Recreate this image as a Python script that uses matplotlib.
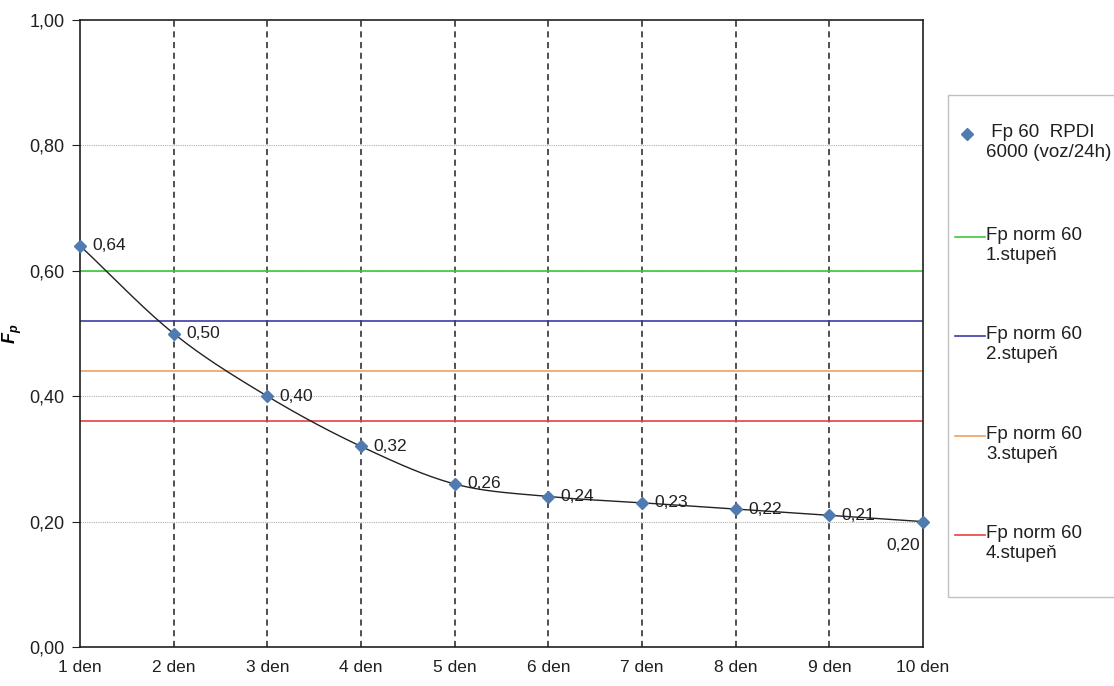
import matplotlib.pyplot as plt
import numpy as np
from matplotlib.lines import Line2D
from matplotlib.patches import Rectangle
from matplotlib.ticker import FuncFormatter

plt.rcParams['font.family'] = ['Liberation Sans', 'DejaVu Sans']
plt.rcParams['mathtext.fontset'] = 'custom'
plt.rcParams['mathtext.bfit'] = 'Liberation Sans:italic:bold'

days = ['1 den', '2 den', '3 den', '4 den', '5 den', '6 den', '7 den', '8 den', '9 den', '10 den']
fp_values = [0.64, 0.50, 0.40, 0.32, 0.26, 0.24, 0.23, 0.22, 0.21, 0.20]
norm_levels = [0.60, 0.52, 0.44, 0.36]
norm_labels = ['Fp norm 60\n1.stupeň', 'Fp norm 60\n2.stupeň', 'Fp norm 60\n3.stupeň', 'Fp norm 60\n4.stupeň']
norm_colors = ['#3cc83c', '#3c3ca8', '#f0a060', '#e84040']
series_label = ' Fp 60  RPDI\n6000 (voz/24h)'
point_color = '#4f7bb0'


def smooth_curve(x, y, steps=30):
    # Catmull-Rom style smoothing between the points
    x = np.asarray(x, float)
    y = np.asarray(y, float)
    px = np.concatenate([[2 * x[0] - x[1]], x, [2 * x[-1] - x[-2]]])
    py = np.concatenate([[2 * y[0] - y[1]], y, [2 * y[-1] - y[-2]]])
    xs, ys = [], []
    t = np.linspace(0, 1, steps)
    for i in range(1, len(px) - 2):
        p0, p1, p2, p3 = py[i - 1], py[i], py[i + 1], py[i + 2]
        q0, q1, q2, q3 = px[i - 1], px[i], px[i + 1], px[i + 2]
        ys.append(0.5 * (2 * p1 + (-p0 + p2) * t + (2 * p0 - 5 * p1 + 4 * p2 - p3) * t**2
                         + (-p0 + 3 * p1 - 3 * p2 + p3) * t**3))
        xs.append(0.5 * (2 * q1 + (-q0 + q2) * t + (2 * q0 - 5 * q1 + 4 * q2 - q3) * t**2
                         + (-q0 + 3 * q1 - 3 * q2 + q3) * t**3))
    return np.concatenate(xs), np.concatenate(ys)


W, H = 1114, 686
fig = plt.figure(figsize=(W / 100, H / 100), dpi=100)
ax = fig.add_axes([80 / W, 39 / H, 843 / W, 627 / H])

x = np.arange(1, len(days) + 1)

# grid
for yv in [0.2, 0.4, 0.6, 0.8]:
    ax.axhline(yv, color='#b0b0b0', linewidth=0.8, linestyle=(0, (1, 1)), zorder=1)
for xv in x[1:-1]:
    ax.axvline(xv, color='#202020', linewidth=1.1, linestyle=(0, (4, 3)), zorder=1)

for lvl, c in zip(norm_levels, norm_colors):
    ax.plot([x[0], x[-1]], [lvl, lvl], color=c, linewidth=1.2, zorder=2)

sx, sy = smooth_curve(x, fp_values)
ax.plot(sx, sy, color='#222222', linewidth=1.0, zorder=3)
ax.plot(x, fp_values, linestyle='none', marker='D', color=point_color, markersize=6, zorder=4,
        clip_on=False)

for xi, v in zip(x, fp_values):
    if xi == x[-1]:
        ax.annotate(f'{v:.2f}'.replace('.', ','), (xi, v), xytext=(-2, -12), textcoords='offset points',
                    ha='right', va='top', fontsize=12.5, color='#202020')
    else:
        ax.annotate(f'{v:.2f}'.replace('.', ','), (xi, v), xytext=(9, 0), textcoords='offset points',
                    ha='left', va='center', fontsize=12.5, color='#202020')

ax.set_xlim(1, 10)
ax.set_ylim(0, 1.0)
ax.set_xticks(x)
ax.set_xticklabels(days, fontsize=12.5, color='#202020')
ax.set_yticks([0, 0.2, 0.4, 0.6, 0.8, 1.0])
ax.yaxis.set_major_formatter(FuncFormatter(lambda v, p: f'{v:.2f}'.replace('.', ',')))
ax.tick_params(axis='y', labelsize=13, colors='#202020', length=6, pad=5)
ax.tick_params(axis='x', length=0, pad=9)
for s in ax.spines.values():
    s.set_color('#202020')
    s.set_linewidth(1.2)

ax.set_ylabel(r'$\mathbfit{F}_{\mathbfit{p}}$', fontsize=13, labelpad=4)

# legend box drawn like the spreadsheet one: handle next to the first text line
fig.add_artist(Rectangle((948 / W, 1 - 597 / H), 200 / W, 502 / H, transform=fig.transFigure,
                         facecolor='white', edgecolor='#c0c0c0', linewidth=1.0, clip_on=False))
entry_y = [135, 238, 337, 437, 536]
labels = [series_label] + norm_labels
for i, (yy, lab) in enumerate(zip(entry_y, labels)):
    yf = 1 - (yy - 1) / H
    if i == 0:
        fig.add_artist(Line2D([967 / W], [yf], marker='D', color=point_color, markersize=6,
                              linestyle='none', transform=fig.transFigure))
    else:
        fig.add_artist(Line2D([955 / W, 985 / W], [yf, yf], color=norm_colors[i - 1],
                              linewidth=1.2, transform=fig.transFigure))
    fig.text(986 / W, 1 - (yy - 11) / H, lab, ha='left', va='top', fontsize=13.5,
             linespacing=1.25, color='#202020')

fig.savefig('out.png', dpi=100)
